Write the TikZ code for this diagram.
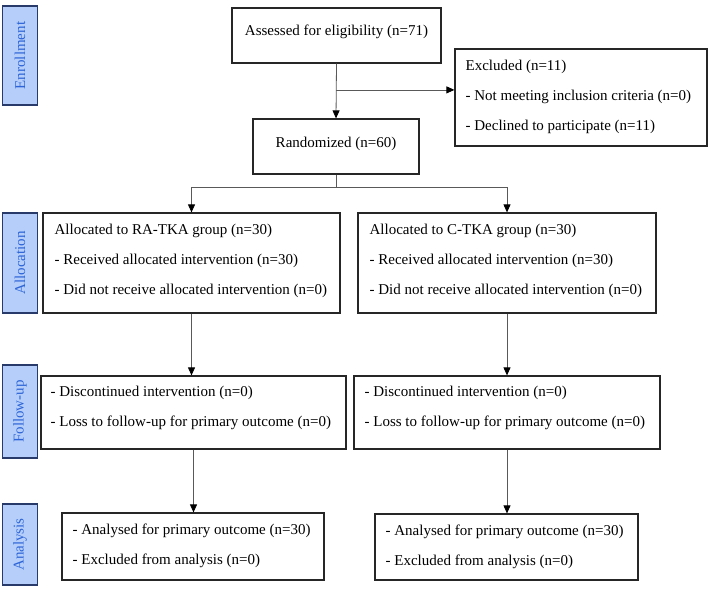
\documentclass[tikz,border=0pt]{standalone}
\usepackage{fontspec}
\setmainfont{Liberation Serif}
\usetikzlibrary{positioning,arrows.meta,calc}
\definecolor{stagefill}{RGB}{182,207,250}
\definecolor{stageline}{RGB}{40,58,105}
\definecolor{stagetext}{RGB}{45,100,215}
\tikzset{
  flowbox/.style={draw=black!85,line width=1.2pt,inner sep=0pt},
  stagebox/.style={draw=stageline,fill=stagefill,line width=1.2pt,rotate=90,
    inner sep=0pt,minimum height=34.6pt,text=stagetext},
  boxtext/.style={inner sep=0pt,align=left},
  flowarrow/.style={draw=black!65,line width=0.8pt,-{Triangle[length=8pt,width=7pt,color=black]}}
}
\begin{document}
\begin{tikzpicture}[x=1pt,y=-1pt,font=\fontsize{15}{30}\selectfont]
  \useasboundingbox (0,0) rectangle (708,593);
  % stages on the left
  \node[stagebox,minimum width=99pt]  (enrol)  at (20,55.5)  {Enrollment};
  \node[stagebox,minimum width=100pt] (alloc)  at (20,263)   {Allocation};
  \node[stagebox,minimum width=93pt]  (follow) at (20,411.5) {Follow-up};
  \node[stagebox,minimum width=81pt]  (analy)  at (20,544.5) {Analysis};
  % enrollment
  \node[flowbox,minimum width=209pt,minimum height=55pt] (assess) at (336.5,35.5) {};
  \node[boxtext,below=17pt of assess.north] (assesstxt) {Assessed for eligibility (n=71)};
  \node[flowbox,minimum width=252pt,minimum height=97pt] (excl) at (581,97.5) {};
  \node[boxtext,below right=11pt and 11pt of excl.north west] (excltxt)
    {Excluded (n=11)\\- Not meeting inclusion criteria (n=0)\\- Declined to participate (n=11)};
  \node[flowbox,minimum width=166pt,minimum height=55pt] (rand) at (336,146.5) {};
  \node[boxtext,below=18pt of rand.north] (randtxt) {Randomized (n=60)};
  % allocation
  \node[flowbox,minimum width=297pt,minimum height=100pt] (ra) at (191.5,263) {};
  \node[boxtext,below right=11pt and 12pt of ra.north west] (ratxt)
    {Allocated to RA-TKA group (n=30)\\- Received allocated intervention (n=30)\\- Did not receive allocated intervention (n=0)};
  \node[flowbox,minimum width=298pt,minimum height=100pt] (ctka) at (507,263) {};
  \node[boxtext,below right=11pt and 12pt of ctka.north west] (ctkatxt)
    {Allocated to C-TKA group (n=30)\\- Received allocated intervention (n=30)\\- Did not receive allocated intervention (n=0)};
  % follow-up
  \node[flowbox,minimum width=305pt,minimum height=73pt] (fuL) at (193.5,412.5) {};
  \node[boxtext,below right=10pt and 10pt of fuL.north west] (fuLtxt)
    {- Discontinued intervention (n=0)\\- Loss to follow-up for primary outcome (n=0)};
  \node[flowbox,minimum width=306pt,minimum height=73pt] (fuR) at (507,412.5) {};
  \node[boxtext,below right=10pt and 11pt of fuR.north west] (fuRtxt)
    {- Discontinued intervention (n=0)\\- Loss to follow-up for primary outcome (n=0)};
  % analysis
  \node[flowbox,minimum width=262pt,minimum height=67pt] (anL) at (193,546.5) {};
  \node[boxtext,below right=11pt and 11pt of anL.north west] (anLtxt)
    {- Analysed for primary outcome (n=30)\\- Excluded from analysis (n=0)};
  \node[flowbox,minimum width=263pt,minimum height=66pt] (anR) at (506.5,547) {};
  \node[boxtext,below right=11pt and 11pt of anR.north west] (anRtxt)
    {- Analysed for primary outcome (n=30)\\- Excluded from analysis (n=0)};
  % connectors
  \coordinate (split) at ($(assess.south)!0.48!(rand.north)$);
  \draw[flowarrow] (assess.south) -- (rand.north);
  \draw[flowarrow] (split) -- (split -| excl.west);
  \draw[flowarrow] (rand.south) -- ++(0,13) -| (ra.north);
  \draw[flowarrow] (rand.south) -- ++(0,13) -| (ctka.north);
  \draw[flowarrow] (ra.south) -- (ra.south |- fuL.north);
  \draw[flowarrow] (ctka.south) -- (ctka.south |- fuR.north);
  \draw[flowarrow] (fuL.south) -- (fuL.south |- anL.north);
  \draw[flowarrow] (fuR.south) -- (fuR.south |- anR.north);
\end{tikzpicture}
\end{document}
